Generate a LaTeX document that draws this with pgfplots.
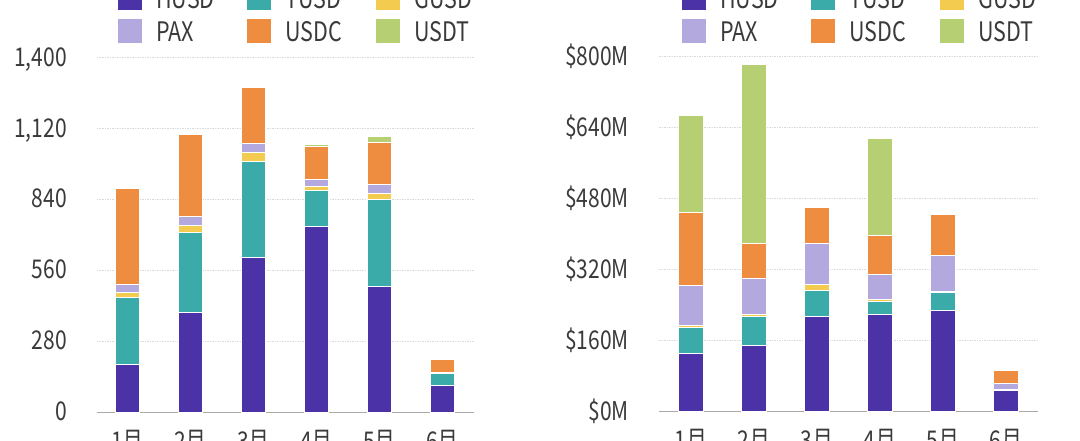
\documentclass[border=0pt]{standalone}
\usepackage{fontspec}
\setmainfont{Noto Sans CJK SC}
\usepackage{pgfplots}
\pgfplotsset{compat=1.18}
\usepackage{pgfplotstable}

\definecolor{husd}{HTML}{4B32A6}
\definecolor{tusd}{HTML}{3AABA8}
\definecolor{gusd}{HTML}{F3CB4E}
\definecolor{pax}{HTML}{B3A9DE}
\definecolor{usdc}{HTML}{EE8C40}
\definecolor{usdt}{HTML}{B5CF72}
\definecolor{txtgray}{HTML}{3A3A3A}
\definecolor{axisgray}{HTML}{AAAAAA}
\definecolor{gridgray}{HTML}{DADADA}

\pgfplotstableread{
x HUSD TUSD GUSD PAX USDC USDT
0 189 264 22 30 380 0
1 394 318 26 34 327 0
2 611 381 33 36 223 0
3 732 145 16 27 130 8
4 498 343 25 33 168 23
5 104 50 2 3 48 0
}\leftdata

\pgfplotstableread{
x HUSD TUSD GUSD PAX USDC USDT
0 131.5 58 4 90 165 220
1 150 65 5 80 80 403
2 214 59 14 92 81 0
3 218 30 4 58 87 218
4 227 41 3 82 92.5 0
5 47 2 1 14 28 0
}\rightdata

\pgfplotsset{
  mybars/.style={
    scale only axis,
    anchor=south west,
    ybar stacked, bar width=24.5pt,
    enlargelimits=false,
    ymin=0,
    xtick={0,1,2,3,4,5},
    xticklabels={1月,2月,3月,4月,5月,6月},
    separate axis lines,
    axis x line*=bottom,
    axis y line*=left,
    y axis line style={draw=none},
    x axis line style={draw=axisgray, line width=1.2pt},
    major tick length=0pt,
    ymajorgrids,
    grid style={gridgray, line width=0.9pt, dash pattern=on 1.5pt off 1pt},
    tick label style={font=\fontsize{21}{21}\selectfont, text=txtgray},
    yticklabel style={anchor=base east, inner sep=0pt, xshift=-30pt, yshift=-8.4pt, yscale=1.23},
    xticklabel style={anchor=north, inner sep=0pt, yshift=-17.5pt, yscale=1.23},
    legend columns=3,
    legend style={draw=none, fill=none, inner sep=0pt, row sep=9pt,
      font=\fontsize{21.5}{21.5}\selectfont, text=txtgray,
      cells={anchor=base west},
      nodes={inner sep=0pt, text depth=0pt, yscale=1.25},
      /tikz/every odd column/.append style={column sep=14pt},
      /tikz/every even column/.append style={column sep=21pt}},
    legend image code/.code={\fill[##1, draw=none] (0pt,-1.3pt) rectangle (24pt,22.7pt);},
    every axis plot/.append style={draw=white, line width=1pt},
  }
}

\newcommand{\lentry}[1]{\addlegendentry{\makebox[70pt][l]{#1}}}

\begin{document}
\begin{tikzpicture}
\begin{axis}[mybars,
  at={(97pt,28.7pt)}, width=377pt, height=354.5pt,
  xmin=-0.484, xmax=5.5, ymax=1400,
  ytick={0,280,560,840,1120,1400},
  yticklabels={0,280,560,840,{1,120},{1,400}},
  legend style={at={(0.0557,1.0418)}, anchor=south west}]
\addplot[fill=husd] table[x=x,y=HUSD]{\leftdata}; \lentry{HUSD}
\addplot[fill=tusd] table[x=x,y=TUSD]{\leftdata}; \lentry{TUSD}
\addplot[fill=gusd] table[x=x,y=GUSD]{\leftdata}; \lentry{GUSD}
\addplot[fill=pax] table[x=x,y=PAX]{\leftdata}; \lentry{PAX}
\addplot[fill=usdc] table[x=x,y=USDC]{\leftdata}; \lentry{USDC}
\addplot[fill=usdt] table[x=x,y=USDT]{\leftdata}; \lentry{USDT}
\end{axis}
\begin{axis}[mybars,
  at={(659pt,29.3pt)}, width=379pt, height=355pt,
  xmin=-0.508, xmax=5.508, ymax=800,
  ytick={0,160,320,480,640,800},
  yticklabels={\$0M,\$160M,\$320M,\$480M,\$640M,\$800M},
  legend style={at={(0.0607,1.0377)}, anchor=south west}]
\addplot[fill=husd] table[x=x,y=HUSD]{\rightdata}; \lentry{HUSD}
\addplot[fill=tusd] table[x=x,y=TUSD]{\rightdata}; \lentry{TUSD}
\addplot[fill=gusd] table[x=x,y=GUSD]{\rightdata}; \lentry{GUSD}
\addplot[fill=pax] table[x=x,y=PAX]{\rightdata}; \lentry{PAX}
\addplot[fill=usdc] table[x=x,y=USDC]{\rightdata}; \lentry{USDC}
\addplot[fill=usdt] table[x=x,y=USDT]{\rightdata}; \lentry{USDT}
\end{axis}
\pgfresetboundingbox
\path[use as bounding box] (0,0) rectangle (1080pt,441pt);
\end{tikzpicture}
\end{document}
